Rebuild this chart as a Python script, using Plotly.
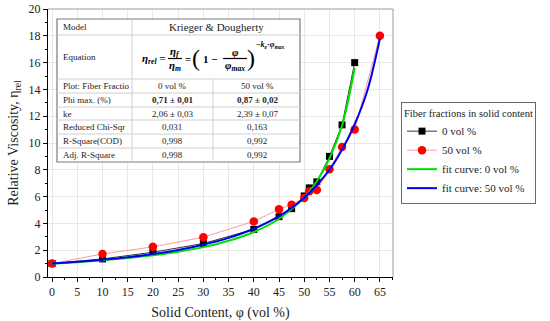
import plotly.graph_objects as go

# ---------------- data ----------------
x_0vol = [0, 10, 20, 30, 40, 45, 47.5, 50, 51, 52.5, 55, 57.5, 60]
y_0vol = [1.0, 1.35, 1.85, 2.5, 3.55, 4.5, 5.1, 6.05, 6.65, 7.1, 9.0, 11.35, 16.0]

x_50vol = [0, 10, 20, 30, 40, 45, 47.5, 50, 51, 52.5, 55, 57.5, 60, 65]
y_50vol = [1.0, 1.72, 2.25, 2.97, 4.15, 5.05, 5.4, 5.9, 6.4, 6.5, 8.05, 9.7, 11.0, 18.0]

x_fit0 = [0, 5, 10, 15, 20, 25, 30, 35, 40, 45, 50, 52.5, 55, 57.5, 60]
y_fit0 = [1.0, 1.11, 1.25, 1.42, 1.62, 1.89, 2.23, 2.7, 3.36, 4.35, 5.94, 7.15, 8.84, 11.3, 15.6]

x_fit50 = [0, 5, 10, 15, 20, 25, 30, 35, 40, 45, 50, 55, 57.5, 60, 62.5, 65]
y_fit50 = [1.0, 1.13, 1.29, 1.48, 1.72, 2.02, 2.41, 2.92, 3.6, 4.54, 5.92, 8.0, 9.5, 11.4, 13.9, 17.8]

series_names = ["0 vol %", "50 vol %", "fit curve: 0 vol %", "fit curve: 50 vol %"]

table_labels = ["Model", "Equation", "Plot: Fiber Fractio", "Phi max. (%)", "ke",
                "Reduced Chi-Sqr", "R-Square(COD)", "Adj. R-Square"]
table_col0 = ["0 vol %", "<b>0,71 ± 0,01</b>", "2,06 ± 0,03", "0,031", "0,998", "0,998"]
table_col50 = ["50 vol %", "<b>0,87 ± 0,02</b>", "2,39 ± 0,07", "0,163", "0,992", "0,992"]

x_ticks = [0, 5, 10, 15, 20, 25, 30, 35, 40, 45, 50, 55, 60, 65]
y_ticks = [0, 2, 4, 6, 8, 10, 12, 14, 16, 18, 20]

# ---------------- layout geometry (window pixels) ----------------
W, H = 550, 321
L, R, T, B = 48, 393, 9, 277  # plot area in window pixels
FONT = "Liberation Serif"


def px(x):
    return (x - L) / (R - L)


def py(y):
    return (B - y) / (B - T)


fig = go.Figure()
fig.add_trace(go.Scatter(x=x_0vol, y=y_0vol, mode="lines+markers", name=series_names[0],
                         line=dict(color="black", width=0.8),
                         marker=dict(symbol="square", size=7, color="black")))
fig.add_trace(go.Scatter(x=x_50vol, y=y_50vol, mode="lines+markers", name=series_names[1],
                         line=dict(color="#ff9a9a", width=1),
                         marker=dict(symbol="circle", size=8.5, color="#ff0000")))
fig.add_trace(go.Scatter(x=x_fit0, y=y_fit0, mode="lines", name=series_names[2],
                         line=dict(color="#00e000", width=2, shape="spline")))
fig.add_trace(go.Scatter(x=x_fit50, y=y_fit50, mode="lines", name=series_names[3],
                         line=dict(color="#0000ee", width=2, shape="spline")))

shapes = []
# grey frame top/right
shapes.append(dict(type="line", xref="paper", yref="paper", x0=0, x1=1, y0=1, y1=1,
                   line=dict(color="#9a9a9a", width=1)))
shapes.append(dict(type="line", xref="paper", yref="paper", x0=1, x1=1, y0=0, y1=1,
                   line=dict(color="#9a9a9a", width=1)))

# table
tx0, tx1 = 57, 300
ty = [19, 35, 79, 93, 107, 120, 134, 148, 162]
c1, c2 = 132, 213
shapes.append(dict(type="rect", xref="paper", yref="paper", x0=px(tx0), x1=px(tx1),
                   y0=py(ty[-1]), y1=py(ty[0]), fillcolor="white",
                   line=dict(color="#7a7a7a", width=1.2), layer="above"))
for yy in ty[1:-1]:
    shapes.append(dict(type="line", xref="paper", yref="paper", x0=px(tx0), x1=px(tx1),
                       y0=py(yy), y1=py(yy), line=dict(color="#cfcfcf", width=1), layer="above"))
shapes.append(dict(type="line", xref="paper", yref="paper", x0=px(c1), x1=px(c1),
                   y0=py(ty[0]), y1=py(ty[-1]), line=dict(color="#cfcfcf", width=1), layer="above"))
shapes.append(dict(type="line", xref="paper", yref="paper", x0=px(c2), x1=px(c2),
                   y0=py(ty[2]), y1=py(ty[-1]), line=dict(color="#cfcfcf", width=1), layer="above"))
# fraction bars
shapes.append(dict(type="line", xref="paper", yref="paper", x0=px(168), x1=px(182),
                   y0=py(58.5), y1=py(58.5), line=dict(color="black", width=1.2), layer="above"))
shapes.append(dict(type="line", xref="paper", yref="paper", x0=px(223), x1=px(247),
                   y0=py(58.5), y1=py(58.5), line=dict(color="black", width=1.2), layer="above"))

annotations = []


def ann(text, x, y, size=9, xanchor="center", color="#222"):
    annotations.append(dict(text=text, x=px(x), y=py(y), xref="paper", yref="paper",
                            showarrow=False, xanchor=xanchor, yanchor="middle",
                            font=dict(family=FONT, size=size, color=color)))


centers = [(ty[i] + ty[i + 1]) / 2 for i in range(len(ty) - 1)]
for lab, cy in zip(table_labels, centers):
    ann(lab, 61, cy, xanchor="left")
ann("Krieger &amp; Dougherty", 216, centers[0], size=11)
for v0, v50, cy in zip(table_col0, table_col50, centers[2:]):
    ann(v0, 172, cy)
    ann(v50, 257, cy)

# equation
ann("<b><i>η</i><sub><i>rel</i></sub> =</b>", 154, 59, size=11, color="black")
ann("<b><i>η</i><sub><i>f</i></sub></b>", 175, 51.5, size=11, color="black")
ann("<b><i>η</i><sub><i>m</i></sub></b>", 175, 66, size=11, color="black")
ann("<b>=</b>", 188, 59, size=11, color="black")
ann("(", 196, 58, size=24, color="black")
ann("<b>1 −</b>", 210, 59, size=11, color="black")
ann("<b><i>φ</i></b>", 235, 51.5, size=11, color="black")
ann("<b><i>φ</i><sub><i>max</i></sub></b>", 235, 66, size=11, color="black")
ann(")", 251, 58, size=24, color="black")
ann("<b>−<i>k</i><sub><i>e</i></sub>·<i>φ</i><sub><i>max</i></sub></b>", 254, 45, size=8,
    xanchor="left", color="black")

axis_common = dict(showline=True, linecolor="black", linewidth=1, ticks="outside",
                   ticklen=4, tickcolor="black", showgrid=True, gridcolor="#e8e8e8",
                   gridwidth=1, zeroline=False, mirror=False, automargin=False,
                   ticklabeloverflow="allow",
                   tickfont=dict(family=FONT, size=12, color="#222"))

fig.update_layout(
    width=W, height=H,
    margin=dict(l=L, r=W - R, t=T, b=H - B, autoexpand=False),
    paper_bgcolor="white", plot_bgcolor="white",
    font=dict(family=FONT, color="#222"),
    xaxis=dict(range=[-0.8, 67.6], tickvals=x_ticks,
               title=dict(text="Solid Content, φ (vol %)", font=dict(family=FONT, size=14),
                          standoff=8),
               minor=dict(ticks="outside", ticklen=2, dtick=2.5, tickcolor="black",
                          showgrid=False),
               **axis_common),
    yaxis=dict(range=[0, 20], tickvals=y_ticks,
               title=dict(text="Relative Viscosity, η<sub>rel</sub>",
                          font=dict(family=FONT, size=14), standoff=6),
               minor=dict(ticks="outside", ticklen=2, dtick=1, tickcolor="black",
                          showgrid=False),
               **axis_common),
    legend=dict(x=px(401), y=py(102), xanchor="left", yanchor="top",
                bordercolor="#6a6a6a", borderwidth=1, bgcolor="white",
                title=dict(text="Fiber fractions in solid content",
                           font=dict(family=FONT, size=10.5)),
                font=dict(family=FONT, size=11, color="#222"),
                tracegroupgap=0, itemwidth=30),
    shapes=shapes,
    annotations=annotations,
    showlegend=True,
)

fig.write_html("out.html", config={"displayModeBar": False},
               post_script="document.body.style.margin='0';document.body.style.overflow='hidden';")
